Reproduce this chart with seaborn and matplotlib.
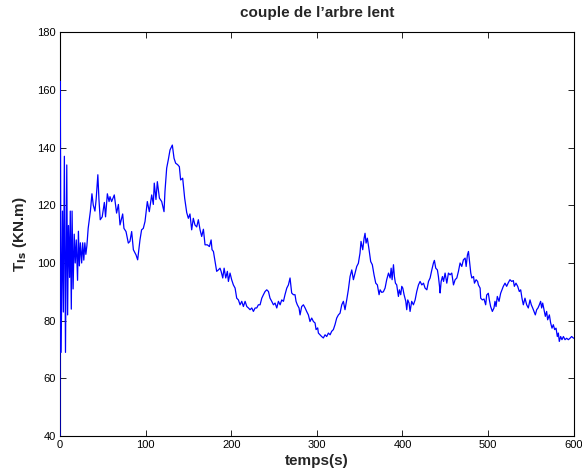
import numpy as np
import pandas as pd
import matplotlib
matplotlib.use("Agg")
import matplotlib.pyplot as plt
import seaborn as sns

# time (s) and slow-shaft torque (KN.m)
temps = [
    0.0, 0.3, 1.3, 2.9, 3.9, 5.1, 6.4, 7.9, 8.9, 9.9, 11.2, 12.0, 13.2, 14.1, 15.3,
    16.6, 17.8, 19.0, 20.5, 21.5, 22.6, 23.8, 25.3, 26.5, 27.8, 29.0, 30.2, 31.4,
    32.9, 35.5, 37.3, 38.9, 40.8, 42.2, 44.2, 45.5, 47.0, 49.3, 51.8, 53.2, 55.3,
    57.3, 58.4, 60.3, 63.4, 66.1, 68.2, 70.1, 73.2, 74.7, 77.1, 79.8, 81.7, 83.7,
    85.7, 88.8, 90.7, 93.4, 95.3, 97.3, 99.3, 102.0, 104.3, 107.1, 109.0, 110.1,
    112.1, 113.7, 116.1, 118.8, 121.5, 122.6, 124.6, 126.5, 128.5, 131.2, 133.2,
    135.1, 137.4, 139.4, 140.9, 143.3, 145.6, 148.0, 149.9, 151.8, 153.8, 155.7,
    157.6, 159.7, 161.6, 163.6, 165.5, 167.5, 169.4, 172.1, 174.5, 176.5, 177.6,
    179.2, 181.1, 183.0, 185.0, 186.9, 188.2, 190.1, 191.7, 193.6, 195.5, 196.7,
    198.6, 200.5, 202.5, 204.5, 206.4, 208.4, 210.3, 212.3, 214.2, 216.2, 218.2,
    220.1, 222.0, 224.0, 225.9, 227.9, 229.8, 231.7, 233.7, 235.7, 237.6, 239.5,
    241.5, 243.5, 245.3, 247.3, 249.3, 251.2, 253.2, 255.1, 257.1, 259.0, 261.0,
    262.8, 264.9, 266.8, 268.7, 270.6, 272.6, 274.5, 275.7, 277.2, 279.2, 280.4,
    282.3, 284.3, 286.3, 288.1, 290.1, 292.0, 294.0, 296.0, 297.9, 299.1, 301.0,
    301.8, 303.7, 305.6, 307.6, 309.6, 311.5, 313.5, 315.5, 317.3, 319.3, 321.2,
    323.2, 325.2, 327.1, 329.1, 331.0, 332.9, 334.9, 336.8, 338.8, 340.8, 342.7,
    344.6, 346.6, 348.5, 350.4, 351.6, 353.6, 355.2, 356.3, 357.5, 359.0, 361.0,
    362.9, 364.8, 366.8, 368.8, 370.7, 372.7, 373.9, 375.8, 377.7, 379.7, 381.6,
    383.7, 385.6, 386.8, 387.9, 389.5, 390.6, 391.8, 393.3, 395.3, 396.4, 398.0,
    399.2, 400.4, 401.9, 403.9, 405.0, 406.2, 407.7, 408.9, 410.8, 412.8, 414.8,
    416.7, 418.7, 420.6, 422.6, 424.6, 426.4, 428.5, 430.4, 432.3, 434.3, 436.2,
    437.3, 438.9, 440.8, 442.0, 443.3, 444.0, 445.2, 446.7, 448.0, 449.8, 451.8,
    453.7, 455.6, 457.6, 459.6, 461.5, 463.5, 465.4, 467.3, 469.3, 471.2, 473.2,
    474.4, 475.9, 477.1, 478.3, 479.8, 481.0, 483.0, 484.1, 486.0, 487.8, 488.7,
    490.7, 491.4, 493.3, 495.3, 497.2, 498.4, 500.3, 501.5, 503.0, 505.0, 506.9,
    508.1, 509.3, 510.8, 512.8, 514.7, 516.3, 517.8, 519.8, 521.7, 523.7, 525.6,
    527.6, 529.5, 530.7, 532.6, 534.6, 536.5, 538.1, 539.6, 541.2, 543.1, 545.1,
    547.0, 549.0, 550.5, 552.1, 553.6, 555.2, 556.8, 558.3, 559.9, 561.4, 562.6,
    563.8, 565.3, 566.9, 568.4, 569.6, 571.6, 573.1, 574.7, 576.2, 577.8, 579.4,
    580.9, 582.1, 583.2, 584.8, 586.3, 588.0, 589.9, 591.8, 593.8, 595.7, 597.6,
    600.0,
]
couple = [
    40, 163, 69, 118, 83, 137, 69, 134, 82, 113, 95, 118, 84, 118, 91,
    110, 100, 108, 94, 111, 99, 107, 100, 107, 101, 107, 103, 106,
    112, 118, 124, 120, 118, 122, 130.6, 122, 115, 116, 121, 116, 124,
    121.3, 123, 121.3, 123.6, 117.3, 120.3, 113.2, 117, 112, 110.9, 106.9, 107.5, 110.9,
    104.6, 102.8, 101.1, 108, 111.5, 112, 114.4, 121.3, 117.8, 123.6, 120.3, 127.7,
    122, 128.2, 122.5, 121.3, 117.8, 124.8, 132.9, 135.8, 139.2, 140.9, 136.3,
    134.6, 134.1, 133.4, 128.8, 129.4, 122.5, 117.5, 115.5, 117, 111.5, 115.5,
    113.2, 112.5, 115, 111.5, 109.2, 111.7, 106.3, 106.3, 105.7, 108, 104.6,
    104, 100.5, 97.1, 97.6, 98.2, 97.1, 94.8, 98.2, 94.8, 97.1, 93.6,
    96.5, 94.2, 92.4, 91.3, 87.8, 87.2, 85.5, 86.7, 84.9, 86.7, 84.9,
    84.4, 83.8, 84.4, 83.2, 84.4, 84.4, 85.5, 85.5, 87.8, 89, 90.1,
    90.7, 90.1, 87.8, 86.7, 85.5, 86.1, 84.4, 86.7, 85.5, 87.2, 86.7,
    89, 91.3, 92.4, 94.8, 89.6, 89, 89, 86.7, 85.5, 84.4, 82,
    84.9, 85.5, 84.4, 83.2, 82, 79.7, 80.9, 79.7, 79.2, 76.9, 77.5,
    75.7, 75.1, 74.5, 74, 75.1, 74.5, 75.7, 75.1, 76.3, 76.9, 78.6,
    80.9, 82, 82.6, 85.5, 86.7, 83.8, 87.2, 90.7, 95.3, 97.6, 94.2,
    96.5, 98.8, 99.9, 103.4, 107.5, 104.6, 108.6, 110.3, 106.9, 108.6, 104.6,
    100.5, 99.4, 95.9, 93, 92.4, 89, 90.7, 89.8, 90, 91.3, 94.2,
    96.5, 94.8, 98.2, 94.2, 99.4, 95.3, 93, 92.4, 88.4, 90.7, 89,
    91.9, 91.3, 89, 86.7, 83.8, 87.2, 86.1, 83.2, 86.7, 85.5, 87.2,
    90.1, 92.4, 93.6, 92.4, 93, 91.3, 90.7, 93.6, 94.8, 97.6, 100,
    100.9, 98.2, 97.6, 95.3, 91.9, 89.6, 93.6, 95.3, 93.6, 96.5, 93,
    96.5, 95.9, 96.5, 92.4, 94.2, 94.8, 97.1, 100, 98.8, 101.1, 101.7,
    98.8, 102.8, 104, 100.5, 96.5, 94.8, 95.3, 93, 94.2, 93.6, 92.4,
    91.3, 87.8, 87.2, 87.5, 85.5, 88.9, 89.5, 87.2, 84.9, 83.2, 84.4,
    86.7, 84.9, 88.4, 86.7, 89.5, 90.7, 91.9, 93, 91.9, 93.2, 94.2,
    93.6, 93.9, 91.9, 93, 91.9, 90.1, 90.7, 87.8, 85.5, 87.8, 85.5,
    84.4, 87.2, 85.5, 84.4, 83.2, 82, 83.8, 84.4, 85.5, 86.7, 84.4,
    86.1, 83.8, 81.5, 83.2, 80.3, 82, 79.2, 77.4, 78.6, 76.9, 77.4,
    74.5, 75.7, 72.8, 74.5, 73.4, 74.5, 73.4, 73.9, 73.4, 73.9, 74.5,
    73.9,
]

x_ticks = [0, 100, 200, 300, 400, 500, 600]
y_ticks = [40, 60, 80, 100, 120, 140, 160, 180]

df = pd.DataFrame({"temps": temps, "couple": couple})

sns.set_style("ticks")
plt.rcParams["font.family"] = ["Liberation Sans", "DejaVu Sans"]

fig = plt.figure(figsize=(5.82, 4.75), dpi=100)
ax = fig.add_axes([0.1031, 0.0821, 0.8826, 0.8499])

sns.lineplot(data=df, x="temps", y="couple", ax=ax, color="#0000ff",
             linewidth=0.9, estimator=None, sort=False, zorder=3)

ax.set_xlim(0, 600)
ax.set_ylim(40, 180)
ax.set_xticks(x_ticks)
ax.set_yticks(y_ticks)
ax.tick_params(direction="in", length=4, width=0.6, labelsize=8,
               top=True, right=True, colors="black", pad=3)
for s in ax.spines.values():
    s.set_visible(True)
    s.set_linewidth(0.8)
    s.set_color("black")
    s.set_zorder(2.5)

ax.set_title("couple de l’arbre lent", fontsize=11, fontweight="bold", pad=11)
ax.set_xlabel("temps(s)", fontsize=11, fontweight="bold", labelpad=3)
ax.set_ylabel(r"T$_{\mathbf{ls}}$ (KN.m)", fontsize=11, fontweight="bold", labelpad=6)

fig.savefig("out.png", dpi=100)
